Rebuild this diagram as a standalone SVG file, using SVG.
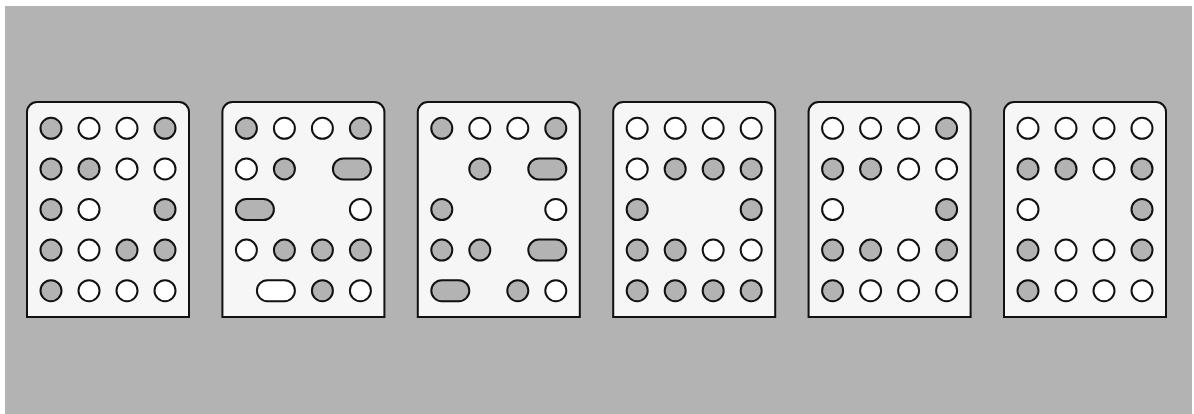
<svg xmlns="http://www.w3.org/2000/svg" width="1194" height="414" viewBox="0 0 1194 414">
<style>
.bg{fill:#b3b3b3}
.panel{fill:#f6f6f6;stroke:#111;stroke-width:2}
.g{fill:#b3b3b3;stroke:#111;stroke-width:2}
.w{fill:#fff;stroke:#111;stroke-width:2}
</style>
<defs>
<path id="plate" d="M0,215 V10 A10,10 0 0 1 10,0 H152 A10,10 0 0 1 162,10 V215 Z"/>
</defs>
<rect class="bg" x="5" y="6" width="1187" height="408"/>
<g id="panel1" transform="translate(27,102)">
<use href="#plate" class="panel"/>
<circle class="g" cx="24" cy="26.3" r="10.5"/><circle class="w" cx="62" cy="26.3" r="10.5"/><circle class="w" cx="100" cy="26.3" r="10.5"/><circle class="g" cx="138" cy="26.3" r="10.5"/>
<circle class="g" cx="24" cy="66.9" r="10.5"/><circle class="g" cx="62" cy="66.9" r="10.5"/><circle class="w" cx="100" cy="66.9" r="10.5"/><circle class="w" cx="138" cy="66.9" r="10.5"/>
<circle class="g" cx="24" cy="107.5" r="10.5"/><circle class="w" cx="62" cy="107.5" r="10.5"/><circle class="g" cx="138" cy="107.5" r="10.5"/>
<circle class="g" cx="24" cy="148.1" r="10.5"/><circle class="w" cx="62" cy="148.1" r="10.5"/><circle class="g" cx="100" cy="148.1" r="10.5"/><circle class="g" cx="138" cy="148.1" r="10.5"/>
<circle class="g" cx="24" cy="188.7" r="10.5"/><circle class="w" cx="62" cy="188.7" r="10.5"/><circle class="w" cx="100" cy="188.7" r="10.5"/><circle class="w" cx="138" cy="188.7" r="10.5"/>
</g>
<g id="panel2" transform="translate(222.4,102)">
<use href="#plate" class="panel"/>
<circle class="g" cx="24" cy="26.3" r="10.5"/><circle class="w" cx="62" cy="26.3" r="10.5"/><circle class="w" cx="100" cy="26.3" r="10.5"/><circle class="g" cx="138" cy="26.3" r="10.5"/>
<circle class="w" cx="24" cy="66.9" r="10.5"/><circle class="g" cx="62" cy="66.9" r="10.5"/><rect class="g" x="110.5" y="56.4" width="38" height="21" rx="10.5"/>
<rect class="g" x="13.5" y="97" width="38" height="21" rx="10.5"/><circle class="w" cx="138" cy="107.5" r="10.5"/>
<circle class="w" cx="24" cy="148.1" r="10.5"/><circle class="g" cx="62" cy="148.1" r="10.5"/><circle class="g" cx="100" cy="148.1" r="10.5"/><circle class="g" cx="138" cy="148.1" r="10.5"/>
<rect class="w" x="34.5" y="178.2" width="38" height="21" rx="10.5"/><circle class="g" cx="100" cy="188.7" r="10.5"/><circle class="w" cx="138" cy="188.7" r="10.5"/>
</g>
<g id="panel3" transform="translate(417.8,102)">
<use href="#plate" class="panel"/>
<circle class="g" cx="24" cy="26.3" r="10.5"/><circle class="w" cx="62" cy="26.3" r="10.5"/><circle class="w" cx="100" cy="26.3" r="10.5"/><circle class="g" cx="138" cy="26.3" r="10.5"/>
<circle class="g" cx="62" cy="66.9" r="10.5"/><rect class="g" x="110.5" y="56.4" width="38" height="21" rx="10.5"/>
<circle class="g" cx="24" cy="107.5" r="10.5"/><circle class="w" cx="138" cy="107.5" r="10.5"/>
<circle class="g" cx="24" cy="148.1" r="10.5"/><circle class="g" cx="62" cy="148.1" r="10.5"/><rect class="g" x="110.5" y="137.6" width="38" height="21" rx="10.5"/>
<rect class="g" x="13.5" y="178.2" width="38" height="21" rx="10.5"/><circle class="g" cx="100" cy="188.7" r="10.5"/><circle class="w" cx="138" cy="188.7" r="10.5"/>
</g>
<g id="panel4" transform="translate(613.2,102)">
<use href="#plate" class="panel"/>
<circle class="w" cx="24" cy="26.3" r="10.5"/><circle class="w" cx="62" cy="26.3" r="10.5"/><circle class="w" cx="100" cy="26.3" r="10.5"/><circle class="w" cx="138" cy="26.3" r="10.5"/>
<circle class="w" cx="24" cy="66.9" r="10.5"/><circle class="g" cx="62" cy="66.9" r="10.5"/><circle class="g" cx="100" cy="66.9" r="10.5"/><circle class="g" cx="138" cy="66.9" r="10.5"/>
<circle class="g" cx="24" cy="107.5" r="10.5"/><circle class="g" cx="138" cy="107.5" r="10.5"/>
<circle class="g" cx="24" cy="148.1" r="10.5"/><circle class="g" cx="62" cy="148.1" r="10.5"/><circle class="w" cx="100" cy="148.1" r="10.5"/><circle class="w" cx="138" cy="148.1" r="10.5"/>
<circle class="g" cx="24" cy="188.7" r="10.5"/><circle class="g" cx="62" cy="188.7" r="10.5"/><circle class="g" cx="100" cy="188.7" r="10.5"/><circle class="g" cx="138" cy="188.7" r="10.5"/>
</g>
<g id="panel5" transform="translate(808.6,102)">
<use href="#plate" class="panel"/>
<circle class="w" cx="24" cy="26.3" r="10.5"/><circle class="w" cx="62" cy="26.3" r="10.5"/><circle class="w" cx="100" cy="26.3" r="10.5"/><circle class="g" cx="138" cy="26.3" r="10.5"/>
<circle class="g" cx="24" cy="66.9" r="10.5"/><circle class="g" cx="62" cy="66.9" r="10.5"/><circle class="w" cx="100" cy="66.9" r="10.5"/><circle class="w" cx="138" cy="66.9" r="10.5"/>
<circle class="w" cx="24" cy="107.5" r="10.5"/><circle class="g" cx="138" cy="107.5" r="10.5"/>
<circle class="g" cx="24" cy="148.1" r="10.5"/><circle class="g" cx="62" cy="148.1" r="10.5"/><circle class="w" cx="100" cy="148.1" r="10.5"/><circle class="g" cx="138" cy="148.1" r="10.5"/>
<circle class="g" cx="24" cy="188.7" r="10.5"/><circle class="w" cx="62" cy="188.7" r="10.5"/><circle class="w" cx="100" cy="188.7" r="10.5"/><circle class="w" cx="138" cy="188.7" r="10.5"/>
</g>
<g id="panel6" transform="translate(1004,102)">
<use href="#plate" class="panel"/>
<circle class="w" cx="24" cy="26.3" r="10.5"/><circle class="w" cx="62" cy="26.3" r="10.5"/><circle class="w" cx="100" cy="26.3" r="10.5"/><circle class="w" cx="138" cy="26.3" r="10.5"/>
<circle class="g" cx="24" cy="66.9" r="10.5"/><circle class="g" cx="62" cy="66.9" r="10.5"/><circle class="w" cx="100" cy="66.9" r="10.5"/><circle class="g" cx="138" cy="66.9" r="10.5"/>
<circle class="w" cx="24" cy="107.5" r="10.5"/><circle class="g" cx="138" cy="107.5" r="10.5"/>
<circle class="g" cx="24" cy="148.1" r="10.5"/><circle class="w" cx="62" cy="148.1" r="10.5"/><circle class="w" cx="100" cy="148.1" r="10.5"/><circle class="g" cx="138" cy="148.1" r="10.5"/>
<circle class="g" cx="24" cy="188.7" r="10.5"/><circle class="w" cx="62" cy="188.7" r="10.5"/><circle class="w" cx="100" cy="188.7" r="10.5"/><circle class="w" cx="138" cy="188.7" r="10.5"/>
</g>
<g id="connectors"/>
</svg>
